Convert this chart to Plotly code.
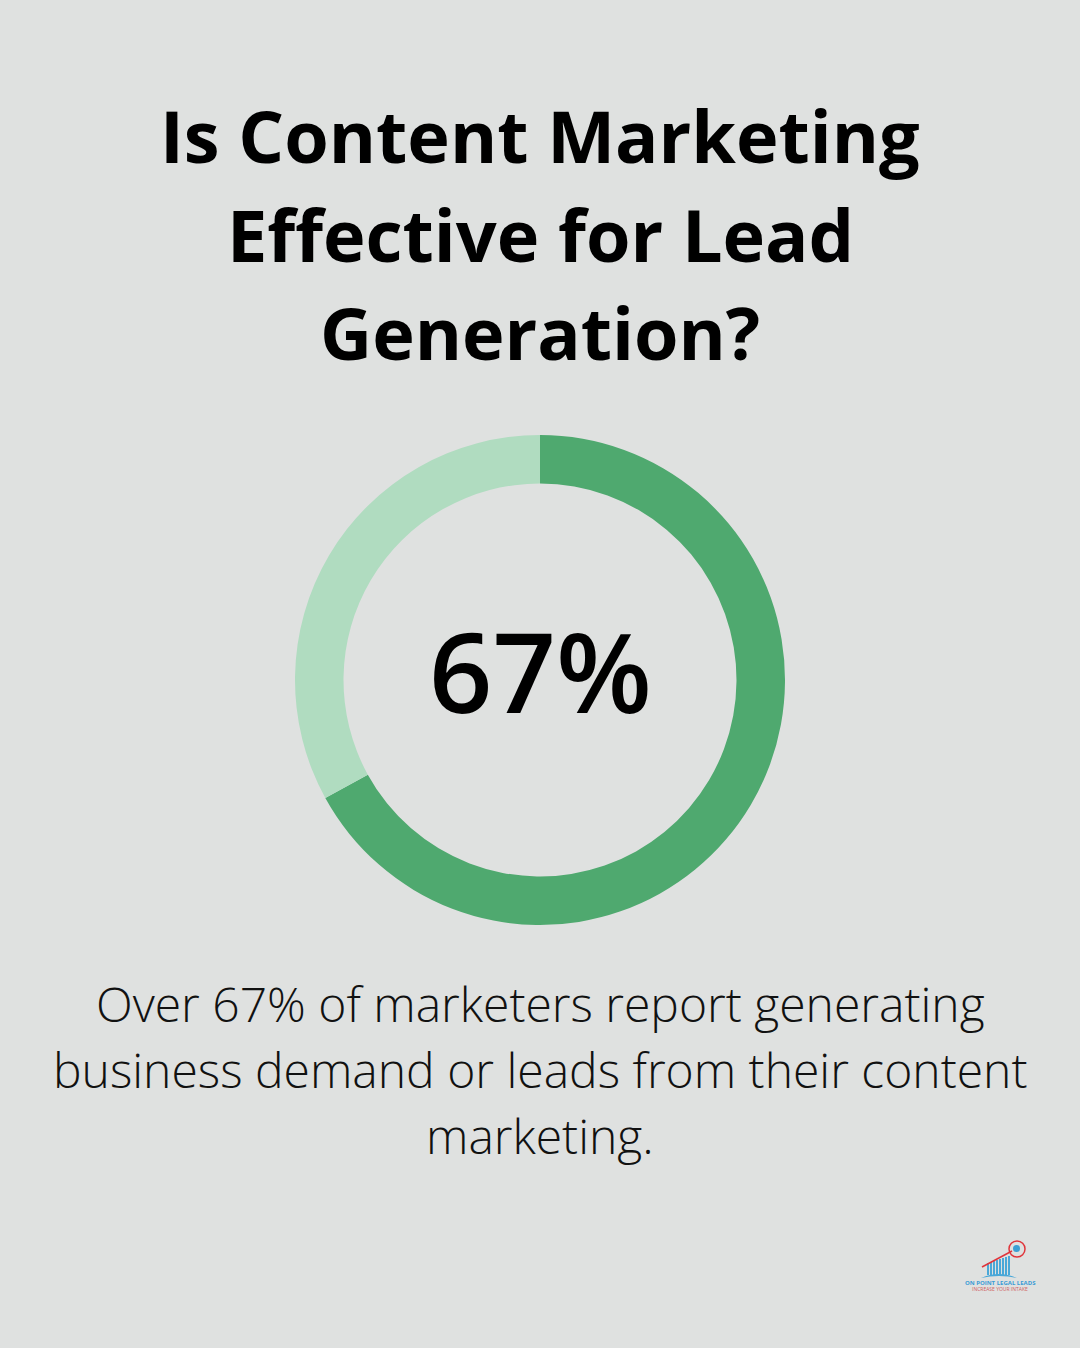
import plotly.graph_objects as go

slices = ["Yes", "No"]
shares = [67, 33]
colors = ["#4fa96f", "#b0dcc0"]
bg = "#dfe1e0"

title_lines = ["Is Content Marketing", "Effective for Lead", "Generation?"]
title_y = [135, 234, 332]
body_lines = ["Over 67% of marketers report generating", "business demand or leads from their content", "marketing."]
body_y = [1003, 1069, 1135]

logo_bar_tops = [1263, 1262, 1261, 1260, 1259, 1258, 1257, 1256]

W = 1080
H = 1348

fig = go.Figure()
fig.add_trace(go.Pie(
    labels=slices,
    values=shares,
    hole=0.802,
    sort=False,
    direction="clockwise",
    rotation=0,
    marker=dict(colors=colors, line=dict(width=0)),
    textinfo="none",
    hoverinfo="none",
    showlegend=False,
    domain=dict(x=[295 / W, 785 / W], y=[1 - 925 / H, 1 - 435 / H]),
))

for line, y in zip(title_lines, title_y):
    fig.add_annotation(text=line, x=540, y=y, xref="x", yref="y", showarrow=False,
                       font=dict(family="Open Sans", size=72, color="#000000", weight=700))
for line, y in zip(body_lines, body_y):
    fig.add_annotation(text=line, x=540, y=y, xref="x", yref="y", showarrow=False,
                       font=dict(family="Open Sans", size=48, color="#111111", weight=300))
fig.add_annotation(text="67%", x=540, y=670, xref="x", yref="y", showarrow=False,
                   font=dict(family="Open Sans", size=111, color="#000000", weight=600))

# logo, bottom right
for i, top in enumerate(logo_bar_tops):
    x0 = 987 + i * 3
    fig.add_shape(type="rect", x0=x0, x1=x0 + 2, y0=top, y1=1275, xref="x", yref="y",
                  fillcolor="#4aa8d8", line_width=0)
fig.add_shape(type="path", path="M 981 1278 Q 999 1270 1017 1278 Q 999 1274 981 1278 Z", xref="x", yref="y",
              fillcolor="#4aa8d8", line_width=0)
fig.add_shape(type="line", x0=982, y0=1267, x1=1012, y1=1251, xref="x", yref="y",
              line=dict(color="#e0353b", width=1.5))
fig.add_shape(type="circle", x0=1009, x1=1025, y0=1241, y1=1257, xref="x", yref="y",
              line=dict(color="#e0353b", width=1.5))
fig.add_shape(type="circle", x0=1013, x1=1020, y0=1245, y1=1252, xref="x", yref="y",
              fillcolor="#3d9fd3", line_width=0)

fig.add_annotation(text="ON POINT LEGAL LEADS", x=1000, y=1283, xref="x", yref="y", showarrow=False,
                   font=dict(family="Open Sans", size=6, color="#3a9bd5", weight=700))
fig.add_annotation(text="INCREASE YOUR INTAKE", x=1000, y=1288.5, xref="x", yref="y", showarrow=False,
                   font=dict(family="Open Sans", size=5, color="#d0605f"))

fig.update_xaxes(range=[0, W], visible=False)
fig.update_yaxes(range=[H, 0], visible=False)
fig.update_layout(width=W, height=H, margin=dict(l=0, r=0, t=0, b=0),
                  paper_bgcolor=bg, plot_bgcolor=bg)
fig.write_html("out.html", config={"displayModeBar": False},
               post_script="document.body.style.margin='0';")
